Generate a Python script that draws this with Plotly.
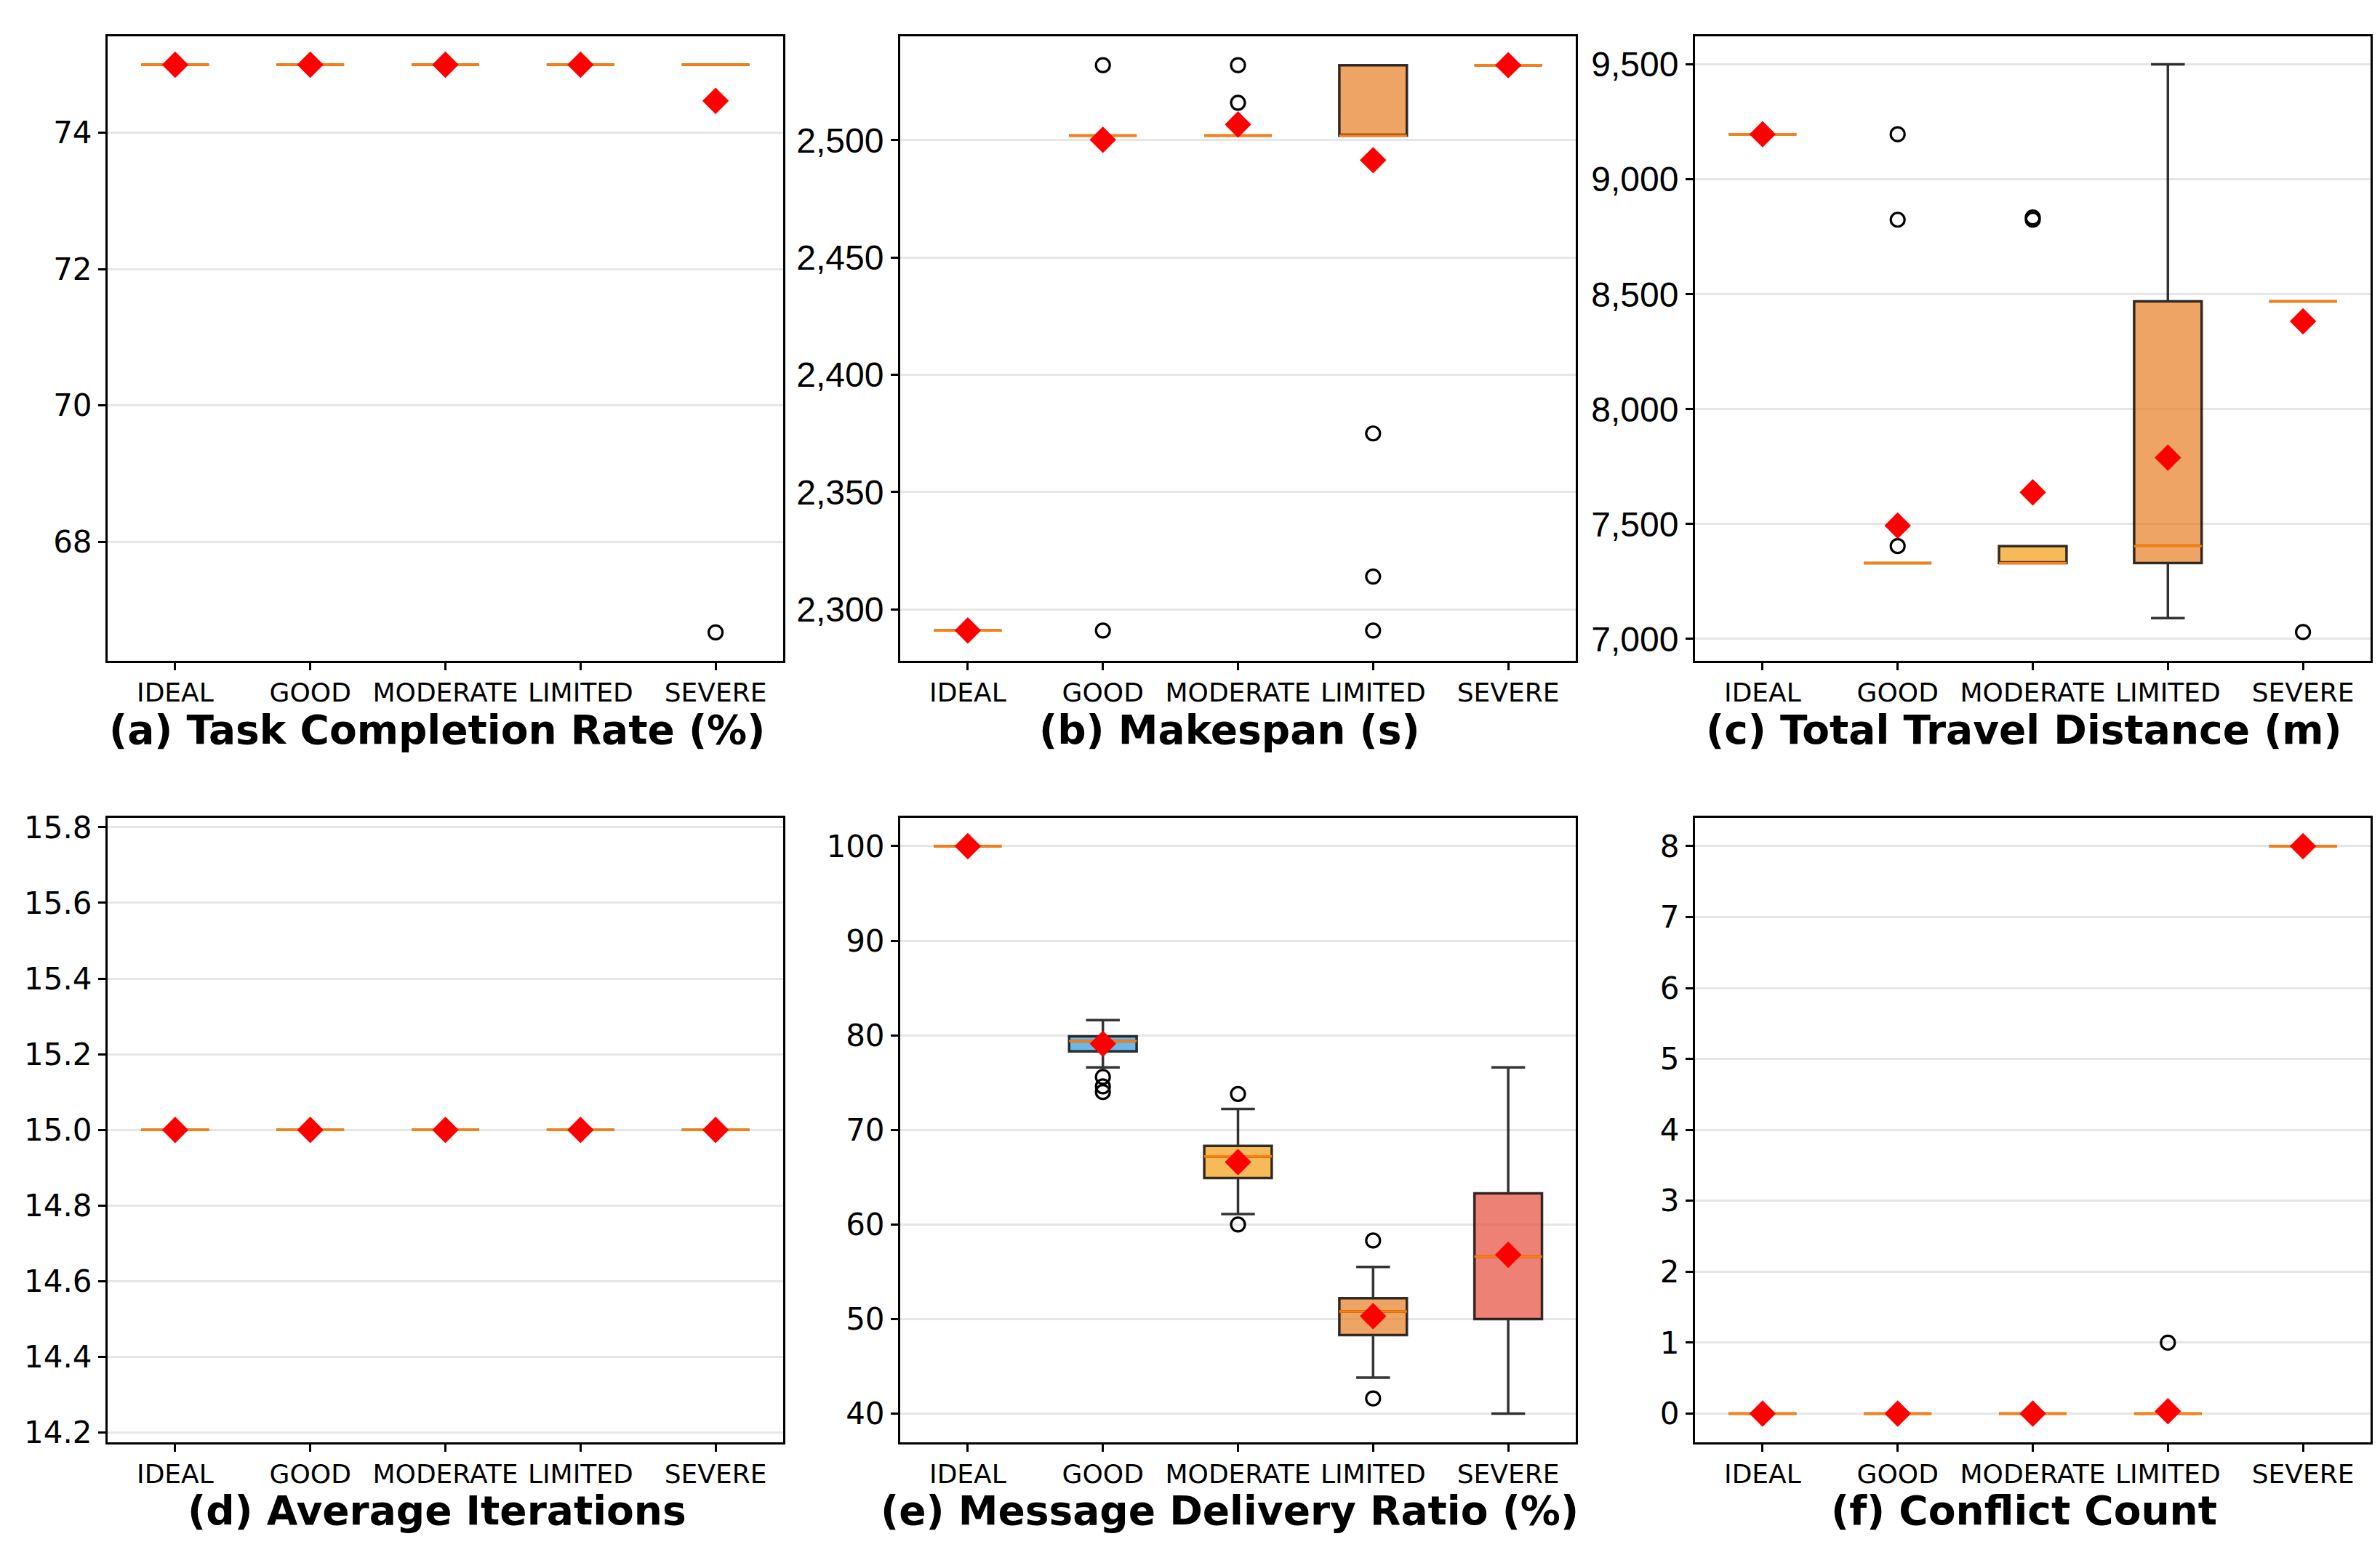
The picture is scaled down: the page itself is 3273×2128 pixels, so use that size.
import plotly.graph_objects as go
from plotly.subplots import make_subplots

categories = ["IDEAL", "GOOD", "MODERATE", "LIMITED", "SEVERE"]

# (a) task completion rate (%)
tcr_q1 = [75, 75, 75, 75, 75]
tcr_med = [75, 75, 75, 75, 75]
tcr_q3 = [75, 75, 75, 75, 75]
tcr_lo = [75, 75, 75, 75, 75]
tcr_hi = [75, 75, 75, 75, 75]
tcr_mean = [75, 75, 75, 75, 74.47]
tcr_out = [[], [], [], [], [66.67]]

# (b) makespan (s)
mk_q1 = [2291, 2502, 2502, 2502, 2532]
mk_med = [2291, 2502, 2502, 2502, 2532]
mk_q3 = [2291, 2502, 2502, 2532, 2532]
mk_lo = [2291, 2502, 2502, 2502, 2532]
mk_hi = [2291, 2502, 2502, 2532, 2532]
mk_mean = [2291, 2500.2, 2506.7, 2491.5, 2532]
mk_out = [[], [2532, 2291], [2532, 2516], [2375, 2314, 2291], []]

# (c) total travel distance (m)
ttd_q1 = [9196, 7330, 7330, 7330, 8469]
ttd_med = [9196, 7330, 7330, 7404, 8469]
ttd_q3 = [9196, 7330, 7404, 8469, 8469]
ttd_lo = [9196, 7330, 7330, 7091, 8469]
ttd_hi = [9196, 7330, 7404, 9500, 8469]
ttd_mean = [9196, 7493, 7638, 7789, 8382]
ttd_out = [[], [9196, 8824, 7404], [8824, 8834], [], [7030]]

# (d) average iterations
it_q1 = [15, 15, 15, 15, 15]
it_med = [15, 15, 15, 15, 15]
it_q3 = [15, 15, 15, 15, 15]
it_lo = [15, 15, 15, 15, 15]
it_hi = [15, 15, 15, 15, 15]
it_mean = [15, 15, 15, 15, 15]
it_out = [[], [], [], [], []]

# (e) message delivery ratio (%)
mdr_q1 = [100, 78.3, 64.9, 48.3, 50.0]
mdr_med = [100, 79.4, 67.2, 50.8, 56.6]
mdr_q3 = [100, 79.9, 68.3, 52.2, 63.3]
mdr_lo = [100, 76.6, 61.1, 43.8, 40.0]
mdr_hi = [100, 81.6, 72.2, 55.5, 76.6]
mdr_mean = [100, 79.1, 66.6, 50.3, 56.8]
mdr_out = [[], [75.6, 74.6, 74.0], [73.8, 60.0], [58.3, 41.6], []]

# (f) conflict count
cc_q1 = [0, 0, 0, 0, 8]
cc_med = [0, 0, 0, 0, 8]
cc_q3 = [0, 0, 0, 0, 8]
cc_lo = [0, 0, 0, 0, 8]
cc_hi = [0, 0, 0, 0, 8]
cc_mean = [0, 0, 0, 0.033, 8]
cc_out = [[], [], [], [1], []]

titles = [
    "(a) Task Completion Rate (%)",
    "(b) Makespan (s)",
    "(c) Total Travel Distance (m)",
    "(d) Average Iterations",
    "(e) Message Delivery Ratio (%)",
    "(f) Conflict Count",
]

panels = [
    (tcr_q1, tcr_med, tcr_q3, tcr_lo, tcr_hi, tcr_mean, tcr_out),
    (mk_q1, mk_med, mk_q3, mk_lo, mk_hi, mk_mean, mk_out),
    (ttd_q1, ttd_med, ttd_q3, ttd_lo, ttd_hi, ttd_mean, ttd_out),
    (it_q1, it_med, it_q3, it_lo, it_hi, it_mean, it_out),
    (mdr_q1, mdr_med, mdr_q3, mdr_lo, mdr_hi, mdr_mean, mdr_out),
    (cc_q1, cc_med, cc_q3, cc_lo, cc_hi, cc_mean, cc_out),
]

box_fill = [
    "rgba(46,204,113,0.7)",
    "rgba(52,152,219,0.7)",
    "rgba(243,156,18,0.7)",
    "rgba(230,126,34,0.7)",
    "rgba(231,76,60,0.7)",
]

y_ranges = [
    [66.25, 75.42],
    [2278, 2544.4],
    [6904, 9623],
    [14.175, 15.825],
    [37, 103],
    [-0.4, 8.4],
]
y_dtick = [2, 50, 500, 0.2, 10, 1]
y_format = ["d", ",d", ",d", ".1f", "d", "d"]

W, H = 3273, 2128
BOX_W = 0.5

fig = make_subplots(rows=2, cols=3)

for p, (q1, med, q3, lo, hi, mean, outs) in enumerate(panels):
    row, col = p // 3 + 1, p % 3 + 1
    for i in range(len(categories)):
        fig.add_trace(go.Box(
            x=[i], q1=[q1[i]], median=[med[i]], q3=[q3[i]],
            lowerfence=[lo[i]], upperfence=[hi[i]],
            width=BOX_W, whiskerwidth=0.5,
            fillcolor=box_fill[i],
            line=dict(color="rgba(0,0,0,0.8)", width=3.5),
            boxpoints=False, hoverinfo="skip",
        ), row=row, col=col)
        # orange median line on top of the box
        fig.add_trace(go.Scatter(
            x=[i - BOX_W / 2, i + BOX_W / 2], y=[med[i], med[i]],
            mode="lines", line=dict(color="#ff7f0e", width=3.5),
            hoverinfo="skip",
        ), row=row, col=col)
    ox = [i for i, o in enumerate(outs) for _ in o]
    oy = [v for o in outs for v in o]
    fig.add_trace(go.Scatter(
        x=ox, y=oy, mode="markers",
        marker=dict(symbol="circle-open", size=19, color="black",
                    line=dict(width=3.2, color="black")),
    ), row=row, col=col)
    fig.add_trace(go.Scatter(
        x=list(range(len(categories))), y=mean, mode="markers",
        marker=dict(symbol="diamond", size=28, color="red", line=dict(width=0)),
    ), row=row, col=col)

# axis placement (pixels of the 3273x2128 canvas)
col_px = [(140, 1069), (1230, 2159), (2323, 3252)]
row_px = [(31, 900), (1118, 1986)]
title_px = [996, 2082]

for p in range(6):
    r, c = p // 3, p % 3
    n = "" if p == 0 else str(p + 1)
    x0, x1 = col_px[c]
    y0, y1 = row_px[r]
    tick_font = dict(family="Liberation Sans", size=48, color="black") if p in (1, 2) \
        else dict(family="DejaVu Sans", size=42, color="black")
    fig.layout["xaxis" + n].update(
        domain=[x0 / W, x1 / W], range=[-0.5, 4.5],
        tickvals=list(range(len(categories))), ticktext=categories,
        tickfont=dict(family="DejaVu Sans", size=36, color="black"),
        ticks="outside", ticklen=10, tickwidth=3, tickcolor="black",
        showline=True, linecolor="black", linewidth=3, mirror=True,
        showgrid=False, zeroline=False,
    )
    fig.layout["yaxis" + n].update(
        domain=[1 - y1 / H, 1 - y0 / H], range=y_ranges[p],
        dtick=y_dtick[p], tick0=0, tickformat=y_format[p],
        tickfont=tick_font,
        ticks="outside", ticklen=10, tickwidth=3, tickcolor="black",
        showline=True, linecolor="black", linewidth=3, mirror=True,
        showgrid=True, gridcolor="#e6e6e6", gridwidth=3, zeroline=False,
    )
    fig.add_annotation(
        text="<b>" + titles[p] + "</b>", showarrow=False,
        xref="paper", yref="paper",
        x=((x0 + x1) / 2 - 12) / W, y=1 - title_px[r] / H,
        xanchor="center", yanchor="middle",
        font=dict(family="DejaVu Sans", size=55, color="black"),
    )

fig.update_layout(
    width=W, height=H,
    margin=dict(l=0, r=0, t=0, b=0),
    paper_bgcolor="white", plot_bgcolor="white",
    showlegend=False, boxmode="overlay",
)

fig.write_html("out.html")
